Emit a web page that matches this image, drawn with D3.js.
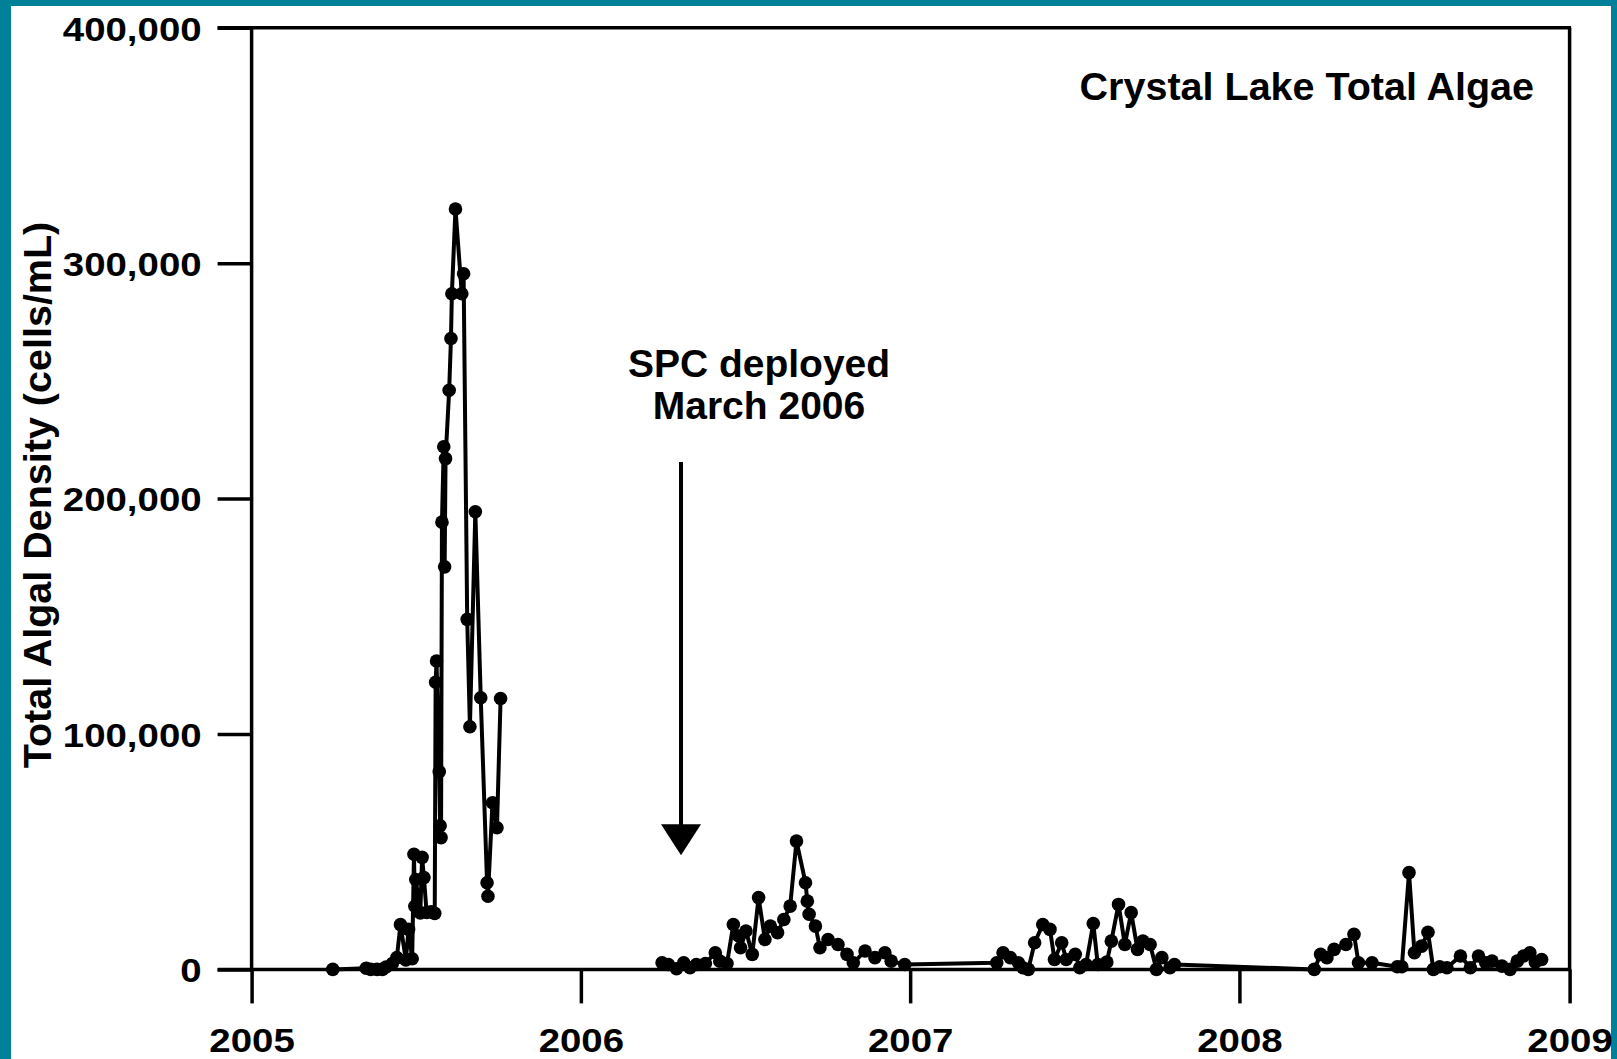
<!DOCTYPE html>
<html>
<head>
<meta charset="utf-8">
<script src="https://cdn.jsdelivr.net/npm/d3@7"></script>
<style>
  body { margin: 0; background: #008099; }
  svg { display: block; }
  text { font-family: "Liberation Sans", Arial, sans-serif; font-weight: bold; fill: #000; }
</style>
</head>
<body>
<svg id="chart" width="1617" height="1059"></svg>
<script>

// sampling dates and total algal density (cells/mL), one pair of arrays per season
var dates2005 = ["2005-04-01","2005-05-08","2005-05-13","2005-05-20","2005-05-26","2005-05-30","2005-06-06","2005-06-11",
  "2005-06-15","2005-06-21","2005-06-24","2005-06-28","2005-06-30","2005-07-01","2005-07-02","2005-07-07","2005-07-09",
  "2005-07-11","2005-07-14","2005-07-19","2005-07-23","2005-07-24","2005-07-25","2005-07-28","2005-07-29","2005-07-30",
  "2005-07-31","2005-08-02","2005-08-03","2005-08-04","2005-08-08","2005-08-10","2005-08-11","2005-08-15","2005-08-22",
  "2005-08-24","2005-08-28","2005-08-31","2005-09-06","2005-09-12","2005-09-19","2005-09-20","2005-09-25","2005-09-30",
  "2005-10-04"];
var algae2005 = [0,500,0,0,0,1000,2500,5000,
  19000,4000,17000,4500,48900,26800,38200,24000,47600,
  39000,24200,24500,23800,122000,131000,84000,61000,56000,
  190000,222000,171000,217000,246000,268000,287000,323000,287000,
  295500,148700,103100,194400,115400,36800,31100,70800,60200,
  115100];

var dates2006 = ["2006-04-01","2006-04-08","2006-04-17","2006-04-25","2006-05-02","2006-05-09","2006-05-19","2006-05-30",
  "2006-06-04","2006-06-12","2006-06-19","2006-06-25","2006-06-27","2006-07-03","2006-07-10","2006-07-17","2006-07-24",
  "2006-07-30","2006-08-07","2006-08-14","2006-08-21","2006-08-28","2006-09-07","2006-09-09","2006-09-11","2006-09-18",
  "2006-09-23","2006-10-02","2006-10-13","2006-10-23","2006-10-30","2006-11-12","2006-11-23","2006-12-04","2006-12-11",
  "2006-12-26"];
var algae2006 = [2800,2100,300,2800,700,2100,2500,7100,
  3500,2500,19100,14200,9200,16300,6400,30500,12700,
  18400,15600,21200,26900,54500,36800,29000,23400,18400,
  9200,12700,10600,6400,2800,7800,5000,7100,3500,
  2100];

var dates2007 = ["2007-04-07","2007-04-14","2007-04-22","2007-05-01","2007-05-06","2007-05-12","2007-05-19","2007-05-28",
  "2007-06-05","2007-06-10","2007-06-18","2007-06-23","2007-07-03","2007-07-08","2007-07-15","2007-07-23","2007-07-28",
  "2007-08-07","2007-08-12","2007-08-20","2007-08-27","2007-09-03","2007-09-10","2007-09-16","2007-09-24","2007-10-01",
  "2007-10-07","2007-10-16","2007-10-21"];
var algae2007 = [2800,7100,5000,2800,700,0,11300,19100,
  17000,4200,11300,4200,6400,700,2100,19500,2100,
  3100,12000,27600,10600,24100,8500,12000,10600,0,
  5000,700,2100];

var dates2008 = ["2008-03-24","2008-03-31","2008-04-07","2008-04-15","2008-04-28","2008-05-07","2008-05-12","2008-05-27",
  "2008-06-24","2008-06-29","2008-07-07","2008-07-13","2008-07-21","2008-07-28","2008-08-03","2008-08-10","2008-08-18",
  "2008-09-02","2008-09-13","2008-09-22","2008-09-30","2008-10-07","2008-10-18","2008-10-27","2008-11-04","2008-11-11",
  "2008-11-18","2008-11-24","2008-12-01"];
var algae2008 = [0,6400,5000,8500,10600,14900,2800,2800,
  1100,1100,41100,7100,9900,15800,0,1100,700,
  5700,700,5700,2800,3500,1400,0,3500,5700,
  7100,3100,4200];

var yearTicks = ["2005","2006","2007","2008","2009"];
var densityTicks = [0, 100000, 200000, 300000, 400000];

var chartTitle = "Crystal Lake Total Algae";
var yTitle = "Total Algal Density (cells/mL)";
var noteLines = ["SPC deployed", "March 2006"];
var arrowDate = "2006-04-22", arrowFrom = 215500, arrowTo = 48500;

var parse = d3.utcParse("%Y-%m-%d");
function pairs(dates, vals) {
  return dates.map(function(d, i) { return {date: parse(d), value: vals[i]}; });
}
var season2005 = pairs(dates2005, algae2005);
var later = pairs(dates2006, algae2006)
  .concat(pairs(dates2007, algae2007))
  .concat(pairs(dates2008, algae2008));

var svg = d3.select("#chart");
svg.append("rect").attr("x", 11).attr("y", 6).attr("width", 1600).attr("height", 1053).attr("fill", "#fff");

var x = d3.scaleUtc()
  .domain([d3.utcParse("%Y")(yearTicks[0]), d3.utcParse("%Y")(yearTicks[yearTicks.length - 1])])
  .range([251.6, 1569.6]);
var y = d3.scaleLinear().domain([0, 400000]).range([969.4, 27.8]);

var stretch = 1.13;

// y axis
var gy = svg.append("g")
  .attr("transform", "translate(" + x.range()[0] + ",0)")
  .call(d3.axisLeft(y).tickValues(densityTicks).tickSize(34).tickSizeOuter(0).tickPadding(16)
    .tickFormat(d3.format(",")));
gy.select(".domain").remove();
gy.selectAll("line").attr("stroke", "#000").attr("stroke-width", 3.5);
gy.selectAll("text")
  .attr("font-size", 34).attr("fill", "#000")
  .attr("x", -50 / stretch)
  .attr("dy", "0.36em")
  .attr("transform", "scale(" + stretch + ",1)");

// x axis
var gx = svg.append("g")
  .attr("transform", "translate(0," + y(0) + ")")
  .call(d3.axisBottom(x).tickValues(yearTicks.map(d3.utcParse("%Y"))).tickSize(34).tickSizeOuter(0)
    .tickPadding(24).tickFormat(d3.utcFormat("%Y")));
gx.select(".domain").remove();
gx.selectAll("line").attr("stroke", "#000").attr("stroke-width", 3.5);
gx.selectAll("text")
  .attr("font-size", 34).attr("fill", "#000")
  .attr("dy", "0.72em")
  .attr("transform", "scale(" + stretch + ",1)");

// frame: left, right, top, bottom
var frame = svg.append("g").attr("stroke", "#000").attr("stroke-width", 3.5).attr("fill", "none");
frame.append("line").attr("x1", x.range()[0]).attr("x2", x.range()[0]).attr("y1", y(400000)).attr("y2", y(0));
frame.append("line").attr("x1", x.range()[1]).attr("x2", x.range()[1]).attr("y1", y(400000)).attr("y2", y(0));
frame.append("line").attr("x1", x.range()[0] - 34).attr("x2", x.range()[1] + 1.5).attr("y1", y(400000)).attr("y2", y(400000));
frame.append("line").attr("x1", x.range()[0] - 34).attr("x2", x.range()[1] + 1.5).attr("y1", y(0)).attr("y2", y(0));

// series
var line = d3.line()
  .x(function(d) { return x(d.date); })
  .y(function(d) { return y(d.value); });

[season2005, later].forEach(function(seg) {
  svg.append("path")
    .datum(seg)
    .attr("fill", "none")
    .attr("stroke", "#000")
    .attr("stroke-width", 4)
    .attr("stroke-linejoin", "round")
    .attr("d", line);
});

svg.append("g").selectAll("circle")
  .data(season2005.concat(later))
  .enter().append("circle")
  .attr("cx", function(d) { return x(d.date); })
  .attr("cy", function(d) { return y(d.value); })
  .attr("r", 6.8)
  .attr("fill", "#000");

// titles
svg.append("text")
  .attr("x", 1534).attr("y", 100)
  .attr("text-anchor", "end")
  .attr("font-size", 39.5)
  .text(chartTitle);

svg.append("text")
  .attr("transform", "translate(51,495) rotate(-90)")
  .attr("text-anchor", "middle")
  .attr("font-size", 39.5)
  .text(yTitle);

// annotation arrow
var ax = x(parse(arrowDate));
svg.append("text")
  .attr("x", 759).attr("y", 377)
  .attr("text-anchor", "middle")
  .attr("font-size", 39)
  .selectAll("tspan")
  .data(noteLines)
  .enter().append("tspan")
  .attr("x", 759)
  .attr("dy", function(d, i) { return i ? 42 : 0; })
  .text(function(d) { return d; });

svg.append("line")
  .attr("x1", ax).attr("x2", ax)
  .attr("y1", y(arrowFrom)).attr("y2", y(arrowTo) - 25)
  .attr("stroke", "#000").attr("stroke-width", 4);
svg.append("path")
  .attr("d", "M" + (ax - 20) + "," + (y(arrowTo) - 31) + "L" + (ax + 20) + "," + (y(arrowTo) - 31) + "L" + ax + "," + y(arrowTo) + "Z")
  .attr("fill", "#000");

</script>
</body>
</html>
